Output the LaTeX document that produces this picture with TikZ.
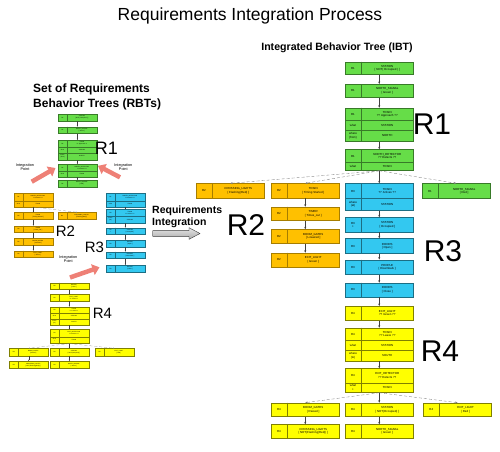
\documentclass[tikz,border=0pt]{standalone}
\usepackage{fontspec}
\setmainfont{Liberation Sans}
\usetikzlibrary{arrows.meta,calc,positioning}

\definecolor{btgreen}{RGB}{102,221,72}
\definecolor{btorange}{RGB}{255,192,0}
\definecolor{btblue}{RGB}{51,200,240}
\definecolor{btyellow}{RGB}{255,255,0}
\definecolor{btsalmon}{RGB}{238,128,118}

\tikzset{
    greenbt/.style={fill=btgreen, draw=btgreen!55!black},
    orangebt/.style={fill=btorange, draw=btorange!65!black},
    bluebt/.style={fill=btblue, draw=btblue!55!black},
    yellowbt/.style={fill=btyellow, draw=btyellow!50!black},
    ibtcell/.style={rectangle, line width=0.5pt, minimum width=68pt, inner sep=0pt, anchor=north west},
    rbtcell/.style={rectangle, line width=0.3pt, minimum width=38.5pt, inner sep=0pt, anchor=north west},
    ibttxt/.style={font=\fontsize{2.9}{3.4}\selectfont, align=center, inner sep=0pt},
    rbttxt/.style={font=\fontsize{1.5}{1.8}\selectfont, align=center, inner sep=0pt},
    seq/.style={draw=black!75, line width=0.35pt, -{Stealth[length=2.4pt,width=2pt]}},
    branch/.style={draw=gray, line width=0.35pt, densely dashed, -{Stealth[length=2.4pt,width=2pt]}},
    seqs/.style={draw=black!75, line width=0.2pt, -{Stealth[length=1.3pt,width=1.1pt]}},
    branchs/.style={draw=gray, line width=0.2pt, densely dashed, -{Stealth[length=1.3pt,width=1.1pt]}},
    bigR/.style={font=\fontsize{30}{30}\selectfont, inner sep=0pt},
    smallR/.style={font=\fontsize{15}{15}\selectfont, inner sep=0pt},
    intpoint/.style={font=\fontsize{3.8}{4.4}\selectfont, align=center, inner sep=0pt},
    ptarrow/.style={draw=btsalmon, line width=4.5pt, -{Triangle[length=7pt,width=11pt]}}
}

% one row of a behaviour tree box: name, colour, x, y (top), height, tag, text
\newcommand{\ibtrow}[7]{%
    \node[ibtcell, #2, minimum height=#5] (#1) at (#3,#4) {};
    \draw[#2, line width=0.5pt] ($(#1.north west)+(16,0)$) -- ($(#1.south west)+(16,0)$);
    \node[ibttxt] at ($(#1.west)+(8,0)$) {#6};
    \node[ibttxt] at ($(#1.center)+(8,0)$) {#7};
}
\newcommand{\rbtrow}[7]{%
    \node[rbtcell, #2, minimum height=#5] (#1) at (#3,#4) {};
    \draw[#2, line width=0.3pt] ($(#1.north west)+(9,0)$) -- ($(#1.south west)+(9,0)$);
    \node[rbttxt] at ($(#1.west)+(4.5,0)$) {#6};
    \node[rbttxt] at ($(#1.center)+(4.5,0)$) {#7};
}

\begin{document}
\begin{tikzpicture}[x=1pt, y=-1pt]
    \useasboundingbox (0,0) rectangle (500,451);

    % headings
    \node[font=\fontsize{17.5}{20}\selectfont] (title) at (250,16) {Requirements Integration Process};
    \node[font=\bfseries\fontsize{10.6}{12}\selectfont] (ibthead) at (337,48) {Integrated Behavior Tree (IBT)};
    \node[font=\bfseries\fontsize{12}{15}\selectfont, align=left, anchor=north west, inner sep=0pt] (rbthead) at (33,84) {Set of Requirements\\Behavior Trees (RBTs)};
    \node[font=\bfseries\fontsize{10.5}{12}\selectfont, align=left, anchor=north west, inner sep=0pt] (intlabel) at (152,205.5) {Requirements\\Integration};

    % ---------- RBT R1 ----------
    \rbtrow{r1a}{greenbt}{58}{114}{6.7}{R1}{STATION\\{}[ NOT( Occupied ) ]}
    \rbtrow{r1b}{greenbt}{58}{126.7}{6.7}{R1}{NORTH\_SIGNAL\\{}[ Green ]}
    \rbtrow{r1c}{greenbt}{58}{140}{6.7}{R1}{TRAIN\\?? Approach ??}
    \rbtrow{r1d}{greenbt}{58}{146.7}{6}{what}{STATION}
    \rbtrow{r1e}{greenbt}{58}{152.7}{7}{where\\(from)}{NORTH}
    \rbtrow{r1f}{greenbt}{58}{164}{7}{R1}{NORTH\_DETECTOR\\?? Detects ??}
    \rbtrow{r1g}{greenbt}{58}{171}{5.7}{what}{TRAIN}
    \rbtrow{r1h}{greenbt}{58}{180}{6.7}{R1}{NORTH\_SIGNAL\\{}[ Red ]}
    \draw[seqs] (r1a.south) -- (r1b.north);
    \draw[seqs] (r1b.south) -- (r1c.north);
    \draw[seqs] (r1e.south) -- (r1f.north);
    \draw[seqs] (r1g.south) -- (r1h.north);
    \node[smallR, font=\fontsize{18}{18}\selectfont] (rbtR1) at (106.5,148.5) {R1};

    % ---------- RBT R2 ----------
    \rbtrow{r2a}{orangebt}{14}{193.3}{7.4}{R1}{NORTH\_DETECTOR\\?? Detects ??}
    \rbtrow{r2b}{orangebt}{14}{200.7}{6}{what}{TRAIN}
    \rbtrow{r2c}{orangebt}{14}{212.3}{7}{R2}{TRAIN\\{}[ Timing Started ]}
    \rbtrow{r2d}{orangebt}{14}{225.7}{6.7}{R2}{TIMER\\{}[ Times\_out ]}
    \rbtrow{r2e}{orangebt}{14}{238.3}{6.7}{R2}{BOOM\_GATES\\{}[ Lowered ]}
    \rbtrow{r2f}{orangebt}{14}{250.7}{6.7}{R2}{EXIT\_LIGHT\\{}[ Green ]}
    \rbtrow{r2g}{orangebt}{57.7}{212.3}{7}{R2}{CROSSING\_LIGHTS\\{}[ Flashing(Red) ]}
    \draw[seqs] (r2b.south) -- (r2c.north);
    \draw[seqs] (r2c.south) -- (r2d.north);
    \draw[seqs] (r2d.south) -- (r2e.north);
    \draw[seqs] (r2e.south) -- (r2f.north);
    \draw[branchs] (r2b.south) -- (r2g.north);
    \node[smallR] (rbtR2) at (65.5,231.3) {R2};

    % ---------- RBT R3 ----------
    \rbtrow{r3a}{bluebt}{106}{193.3}{7.4}{R1}{NORTH\_DETECTOR\\?? Detects ??}
    \rbtrow{r3b}{bluebt}{106}{200.7}{6}{what}{TRAIN}
    \rbtrow{r3c}{bluebt}{106}{209.3}{6.7}{R3}{TRAIN\\?? Arrives ??}
    \rbtrow{r3d}{bluebt}{106}{216}{6.7}{where\\(at)}{STATION}
    \rbtrow{r3e}{bluebt}{106}{227.7}{6.7}{R3\\+}{STATION\\{}[ Occupied ]}
    \rbtrow{r3f}{bluebt}{106}{240}{6.7}{R3}{DOORS\\{}[ Open ]}
    \rbtrow{r3g}{bluebt}{106}{251.7}{6.7}{R3}{PEOPLE\\{}[ Disembark ]}
    \rbtrow{r3h}{bluebt}{106}{265}{6.7}{R3}{DOORS\\{}[ Close ]}
    \draw[seqs] (r3b.south) -- (r3c.north);
    \draw[seqs] (r3d.south) -- (r3e.north);
    \draw[seqs] (r3e.south) -- (r3f.north);
    \draw[seqs] (r3f.south) -- (r3g.north);
    \draw[seqs] (r3g.south) -- (r3h.north);
    \node[smallR] (rbtR3) at (94.5,247.2) {R3};

    % ---------- RBT R4 ----------
    \rbtrow{r4a}{yellowbt}{50}{282.7}{6.7}{R3}{DOORS\\{}[ Close ]}
    \rbtrow{r4b}{yellowbt}{50}{294.3}{6.7}{R4}{EXIT\_LIGHT\\?? Green ??}
    \rbtrow{r4c}{yellowbt}{50}{306.7}{6.7}{R4}{TRAIN\\?? Leave ??}
    \rbtrow{r4d}{yellowbt}{50}{313.4}{5.7}{what}{STATION}
    \rbtrow{r4e}{yellowbt}{50}{319.1}{6}{where\\(to)}{SOUTH}
    \rbtrow{r4f}{yellowbt}{50}{329.3}{7.4}{R4}{EXIT\_DETECTOR\\?? Detects ??}
    \rbtrow{r4g}{yellowbt}{50}{336.7}{6.6}{what\\+}{TRAIN}
    \rbtrow{r4h}{yellowbt}{9.3}{348.3}{7.4}{R4}{BOOM\_GATES\\{}[ Raised ]}
    \rbtrow{r4i}{yellowbt}{50}{348.3}{7.4}{R4}{STATION\\{}[ NOT(Occupied) ]}
    \rbtrow{r4j}{yellowbt}{95}{348.3}{7.4}{R4}{EXIT\_LIGHT\\{}[ Red ]}
    \rbtrow{r4k}{yellowbt}{9.3}{361}{7.4}{R4}{CROSSING\_LIGHTS\\{}[ NOT(Flashing(Red)) ]}
    \rbtrow{r4l}{yellowbt}{50}{361}{7.4}{R4}{NORTH\_SIGNAL\\{}[ Green ]}
    \draw[seqs] (r4a.south) -- (r4b.north);
    \draw[seqs] (r4b.south) -- (r4c.north);
    \draw[seqs] (r4e.south) -- (r4f.north);
    \draw[branchs] (r4g.south) -- (r4h.north);
    \draw[seqs] (r4g.south) -- (r4i.north);
    \draw[branchs] (r4g.south) -- (r4j.north);
    \draw[seqs] (r4h.south) -- (r4k.north);
    \draw[seqs] (r4i.south) -- (r4l.north);
    \node[smallR] (rbtR4) at (102.5,313.8) {R4};

    % integration points
    \node[intpoint] (ipleft) at (25,167.3) {Integration\\Point};
    \node[intpoint] (ipright) at (123.3,167.3) {Integration\\Point};
    \node[intpoint] (iplow) at (68.3,259) {Integration\\Point};
    \coordinate (ipla) at (31.7,181.7);
    \coordinate (iplb) at (55.5,168);
    \coordinate (ipra) at (120,177.3);
    \coordinate (iprb) at (98,165.8);
    \coordinate (ipwa) at (70,277.5);
    \coordinate (ipwb) at (99.5,267.3);
    \draw[ptarrow] (ipla) -- (iplb);
    \draw[ptarrow] (ipra) -- (iprb);
    \draw[ptarrow] (ipwa) -- (ipwb);

    % integration arrow
    \shade[top color=gray!20, bottom color=gray!65, draw=gray!45!black, line width=0.4pt]
        (152.7,230.6) -- (189,230.6) -- (189,227.7) -- (200,233.5) -- (189,239.3)
        -- (189,236.4) -- (152.7,236.4) -- cycle;

    % ---------- IBT ----------
    \ibtrow{g1}{greenbt}{345}{61.7}{12.6}{R1}{STATION\\{}[ NOT( Occupied ) ]}
    \ibtrow{g2}{greenbt}{345}{84}{13}{R1}{NORTH\_SIGNAL\\{}[ Green ]}
    \ibtrow{g3a}{greenbt}{345}{107.7}{12.3}{R1}{TRAIN\\?? Approach ??}
    \ibtrow{g3b}{greenbt}{345}{120}{10}{what}{STATION}
    \ibtrow{g3c}{greenbt}{345}{130}{11}{where\\(from)}{NORTH}
    \ibtrow{g4a}{greenbt}{345}{149.3}{13}{R1}{NORTH\_DETECTOR\\?? Detects ??}
    \ibtrow{g4b}{greenbt}{345}{162.3}{8}{what}{TRAIN}

    \ibtrow{o1}{orangebt}{196}{183.3}{14.4}{R2}{CROSSING\_LIGHTS\\{}[ Flashing(Red) ]}
    \ibtrow{o2}{orangebt}{271}{183.3}{14.4}{R2}{TRAIN\\{}[ Timing Started ]}
    \ibtrow{o3}{orangebt}{271}{206.7}{13.3}{R2}{TIMER\\{}[ Times\_out ]}
    \ibtrow{o4}{orangebt}{271}{229.3}{14}{R2}{BOOM\_GATES\\{}[ Lowered ]}
    \ibtrow{o5}{orangebt}{271}{252.7}{14}{R2}{EXIT\_LIGHT\\{}[ Green ]}

    \ibtrow{b1a}{bluebt}{345}{183.3}{15}{R3}{TRAIN\\?? Arrives ??}
    \ibtrow{b1b}{bluebt}{345}{198.3}{11.7}{where\\(at)}{STATION}
    \ibtrow{b2}{bluebt}{345}{217.3}{14.4}{R3\\+}{STATION\\{}[ Occupied ]}
    \ibtrow{b3}{bluebt}{345}{238.3}{15}{R3}{DOORS\\{}[ Open ]}
    \ibtrow{b4}{bluebt}{345}{259.5}{14.5}{R3}{PEOPLE\\{}[ Disembark ]}
    \ibtrow{b5}{bluebt}{345}{282.7}{14}{R3}{DOORS\\{}[ Close ]}

    \ibtrow{g5}{greenbt}{422}{183.3}{15}{R1}{NORTH\_SIGNAL\\{}[ Red ]}

    \ibtrow{y1}{yellowbt}{345}{306}{14}{R4}{EXIT\_LIGHT\\?? Green ??}
    \ibtrow{y2a}{yellowbt}{345}{327.7}{12.3}{R4}{TRAIN\\?? Leave ??}
    \ibtrow{y2b}{yellowbt}{345}{340}{10}{what}{STATION}
    \ibtrow{y2c}{yellowbt}{345}{350}{10.7}{where\\(to)}{SOUTH}
    \ibtrow{y3a}{yellowbt}{345}{368.3}{14.2}{R4}{EXIT\_DETECTOR\\?? Detects ??}
    \ibtrow{y3b}{yellowbt}{345}{382.5}{9.7}{what\\+}{TRAIN}
    \ibtrow{y4}{yellowbt}{271}{402.7}{13.3}{R4}{BOOM\_GATES\\{}[ Raised ]}
    \ibtrow{y5}{yellowbt}{345}{402.7}{13.3}{R4}{STATION\\{}[ NOT(Occupied) ]}
    \ibtrow{y6}{yellowbt}{423.3}{402.7}{13.3}{R4}{EXIT\_LIGHT\\{}[ Red ]}
    \ibtrow{y7}{yellowbt}{271}{424.3}{14}{R4}{CROSSING\_LIGHTS\\{}[ NOT(Flashing(Red)) ]}
    \ibtrow{y8}{yellowbt}{345}{424.3}{14}{R4}{NORTH\_SIGNAL\\{}[ Green ]}

    \draw[seq] (g1.south) -- (g2.north);
    \draw[seq] (g2.south) -- (g3a.north);
    \draw[seq] (g3c.south) -- (g4a.north);
    \draw[branch] (g4b.south) -- (o1.north);
    \draw[branch] (g4b.south) -- (o2.north);
    \draw[seq] (g4b.south) -- (b1a.north);
    \draw[branch] (g4b.south) -- (g5.north);
    \draw[seq] (o2.south) -- (o3.north);
    \draw[seq] (o3.south) -- (o4.north);
    \draw[seq] (o4.south) -- (o5.north);
    \draw[seq] (b1b.south) -- (b2.north);
    \draw[seq] (b2.south) -- (b3.north);
    \draw[seq] (b3.south) -- (b4.north);
    \draw[seq] (b4.south) -- (b5.north);
    \draw[seq] (b5.south) -- (y1.north);
    \draw[seq] (y1.south) -- (y2a.north);
    \draw[seq] (y2c.south) -- (y3a.north);
    \draw[branch] (y3b.south) -- (y4.north);
    \draw[seq] (y3b.south) -- (y5.north);
    \draw[branch] (y3b.south) -- (y6.north);
    \draw[seq] (y4.south) -- (y7.north);
    \draw[seq] (y5.south) -- (y8.north);

    \node[bigR] (ibtR1) at (432,124.5) {R1};
    \node[bigR] (ibtR2) at (246,225.5) {R2};
    \node[bigR] (ibtR3) at (443,251) {R3};
    \node[bigR] (ibtR4) at (440,351) {R4};
\end{tikzpicture}
\end{document}
